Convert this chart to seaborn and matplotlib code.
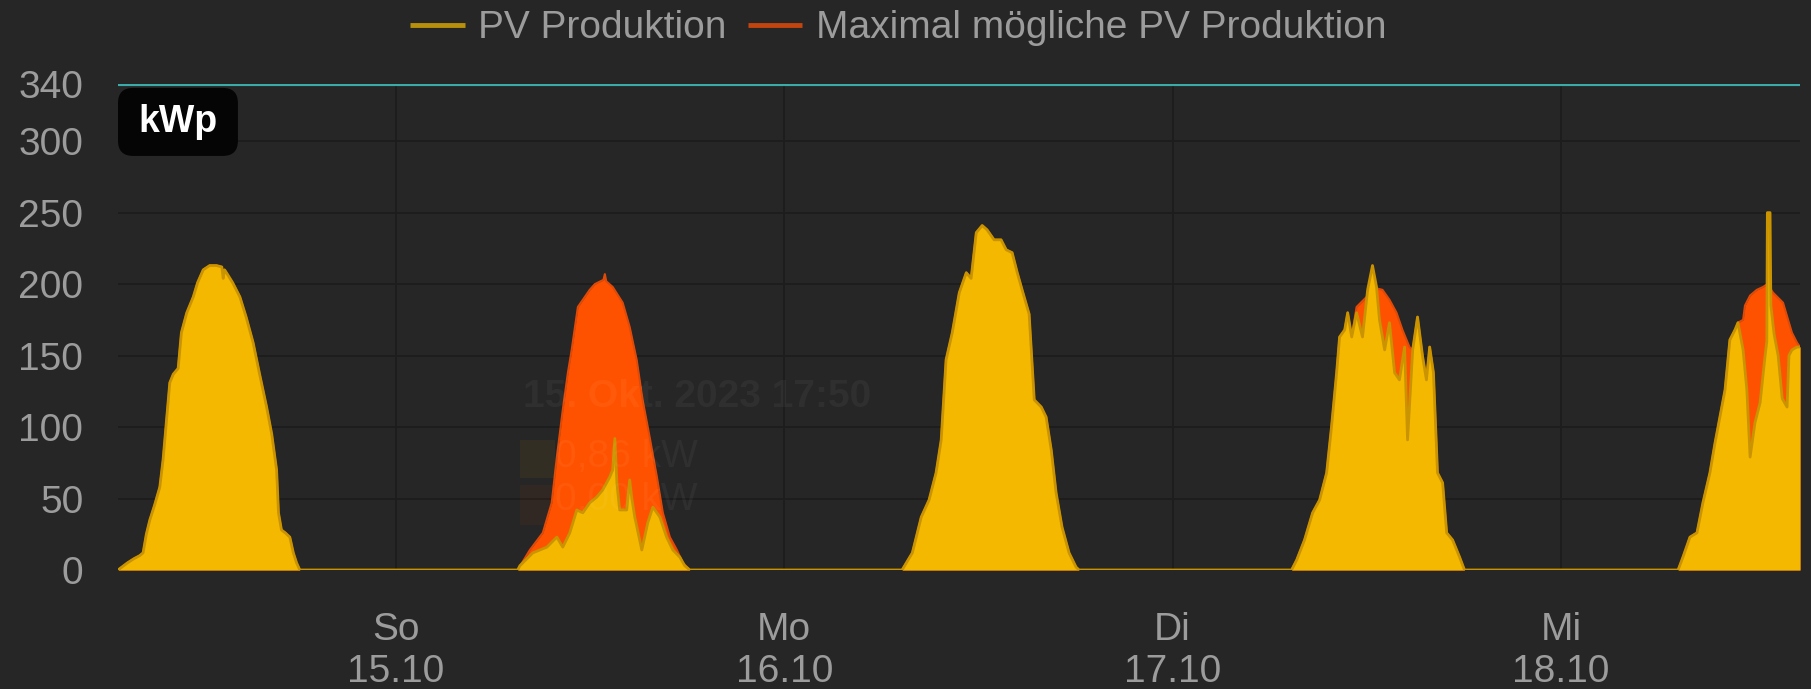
import pandas as pd
import numpy as np
import matplotlib.pyplot as plt
from matplotlib.lines import Line2D
from matplotlib.patches import Rectangle, FancyBboxPatch
import seaborn as sns

# PV production in kW, one list per day
d1_date = "2023-10-14"
d1_time = ["06:50", "06:57", "07:25", "07:50", "08:10", "08:23", "08:35", "08:48", "09:05",
           "09:25", "09:37", "09:50", "10:02", "10:15", "10:33", "10:45", "11:05", "11:29",
           "11:45", "12:06", "12:30", "12:55", "13:15", "13:20", "13:25", "13:32", "13:55",
           "14:22", "14:45", "15:11", "15:35", "16:01", "16:20", "16:38", "16:45", "16:56",
           "17:10", "17:27", "17:40", "17:52", "18:04"]
d1_pv = [0, 1, 5, 8, 10, 12, 25, 35, 45, 58, 77, 105, 131, 137, 141, 166, 180, 191, 201, 210,
         213, 213, 212, 204, 210, 208, 201, 191, 177, 159, 137, 114, 95, 70, 40, 28, 26, 23,
         12, 5, 0]

d2_date = "2023-10-15"
d2_time = ["07:32", "07:40", "08:28", "09:20", "09:57", "10:19", "10:45", "11:11", "11:33",
           "11:59", "12:25", "12:47", "13:13", "13:24", "13:32", "13:40", "13:50", "14:16",
           "14:27", "14:35", "14:46", "15:12", "15:34", "15:53", "16:19", "16:44", "17:07",
           "17:33", "17:51", "18:10"]
d2_pv = [0, 3, 12, 16, 23, 16, 26, 42, 40, 47, 51, 56, 65, 70, 92, 60, 42, 42, 63, 50, 37,
         14, 33, 44, 37, 23, 14, 9, 3, 0]
d2_max_time = ["07:32", "08:17", "09:05", "09:38", "09:57", "10:19", "10:38", "10:52", "11:15",
               "11:59", "12:18", "12:50", "12:55", "13:00", "13:24", "14:01", "14:27", "14:53",
               "15:15", "15:41", "16:08", "16:30", "16:56", "17:22", "17:44", "18:10"]
d2_max = [0, 14, 26, 47, 79, 112, 138, 154, 184, 196, 200, 203, 207, 202, 198, 187, 170, 147,
          119, 93, 65, 40, 23, 14, 5, 0]

d3_date = "2023-10-16"
d3_time = ["07:17", "07:55", "08:28", "08:57", "09:23", "09:42", "10:00", "10:23", "10:49",
           "11:15", "11:33", "11:52", "12:14", "12:32", "12:58", "13:24", "13:43", "14:05",
           "14:24", "14:42", "15:08", "15:27", "15:53", "16:11", "16:30", "16:48", "17:10",
           "17:36", "18:02", "18:13"]
d3_pv = [0, 12, 37, 49, 68, 91, 147, 166, 194, 208, 204, 236, 241, 238, 231, 231, 224, 222,
         208, 196, 179, 119, 114, 107, 84, 54, 30, 12, 2, 0]

d4_date = "2023-10-17"
d4_time = ["07:21", "07:40", "08:09", "08:39", "09:05", "09:31", "09:49", "10:08", "10:19",
           "10:38", "10:49", "11:04", "11:22", "11:44", "12:03", "12:21", "12:36", "12:47",
           "13:06", "13:24", "13:43", "14:01", "14:20", "14:31", "14:50", "15:08", "15:27",
           "15:41", "15:53", "16:07", "16:22", "16:41", "16:56", "17:18", "17:44", "18:02"]
d4_pv = [0, 7, 21, 40, 49, 68, 100, 138, 163, 168, 180, 163, 180, 163, 196, 213, 198, 175,
         154, 173, 138, 133, 156, 91, 154, 177, 149, 133, 156, 138, 68, 61, 26, 21, 9, 0]
d4_max_time = ["07:21", "07:40", "08:09", "08:39", "09:05", "09:31", "09:49", "10:08", "10:19",
               "10:38", "10:49", "11:04", "11:22", "11:59", "12:36", "12:58", "13:24", "13:50",
               "14:12", "14:38", "14:50", "15:08", "15:27", "15:41", "15:53", "16:07", "16:22",
               "16:41", "16:56", "17:18", "17:44", "18:02"]
d4_max = [0, 7, 21, 40, 49, 68, 100, 138, 163, 168, 180, 163, 184, 191, 197, 196, 189, 180,
          168, 156, 154, 177, 149, 133, 156, 138, 68, 61, 26, 21, 9, 0]

d5_date = "2023-10-18"
d5_time = ["07:14", "07:32", "07:58", "08:24", "08:46", "09:12", "09:31", "09:49", "10:08",
           "10:26", "10:45", "10:56", "11:15", "11:29", "11:41", "11:59", "12:18", "12:36",
           "12:43", "12:45", "12:55", "12:58", "13:10", "13:25", "13:40", "13:58", "14:05",
           "14:16", "14:35", "14:46"]
d5_pv = [0, 9, 23, 26, 47, 68, 89, 107, 126, 161, 168, 173, 154, 126, 79, 103, 117, 149,
         160, 250, 250, 185, 165, 150, 120, 114, 150, 154, 156, 156]
d5_max_time = ["07:14", "07:32", "07:58", "08:24", "08:46", "09:12", "09:31", "09:49", "10:08",
               "10:26", "10:45", "10:56", "11:15", "11:22", "11:41", "12:06", "12:29", "12:45",
               "13:06", "13:43", "14:16", "14:35", "14:46"]
d5_max = [0, 9, 23, 26, 47, 68, 89, 107, 126, 161, 168, 173, 175, 185, 192, 196, 198, 200,
          194, 187, 166, 159, 156]

kwp_limit = 340
y_ticks = [0, 50, 100, 150, 200, 250, 300, 340]
x_tick_dates = ["2023-10-15", "2023-10-16", "2023-10-17", "2023-10-18"]
x_tick_labels = ["So\n15.10", "Mo\n16.10", "Di\n17.10", "Mi\n18.10"]
series_names = ["PV Produktion", "Maximal mögliche PV Produktion"]


def build(parts, name):
    frames = []
    for date, times, vals in parts:
        frames.append(pd.DataFrame({
            "zeit": pd.to_datetime([date + " " + t for t in times]),
            "kw": vals,
        }))
    df = pd.concat(frames, ignore_index=True)
    df["serie"] = name
    return df


pv = build([(d1_date, d1_time, d1_pv), (d2_date, d2_time, d2_pv), (d3_date, d3_time, d3_pv),
            (d4_date, d4_time, d4_pv), (d5_date, d5_time, d5_pv)], series_names[0])
mx = build([(d1_date, d1_time, d1_pv), (d2_date, d2_max_time, d2_max), (d3_date, d3_time, d3_pv),
            (d4_date, d4_max_time, d4_max), (d5_date, d5_max_time, d5_max)], series_names[1])

bg = "#262626"
grid_col = "#1d1d1d"
text_col = "#9c9c9c"
yellow = "#f5b800"
yellow_edge = "#c99400"
orange = "#ff5200"
orange_edge = "#e04a08"
cyan = "#3aaba8"

sns.set_theme(style="dark", rc={"axes.facecolor": bg, "figure.facecolor": bg})
plt.rcParams["font.family"] = ["Liberation Sans", "DejaVu Sans"]

fig = plt.figure(figsize=(18.11, 6.89), dpi=100)
ax = fig.add_axes([118 / 1811, 119 / 689, 1682 / 1811, 486 / 689])

# filled areas: max possible behind, actual production in front
ax.fill_between(mx["zeit"], 0, mx["kw"], color=orange, lw=0, zorder=2)
sns.lineplot(data=mx, x="zeit", y="kw", color=orange_edge, lw=1.5, estimator=None,
             sort=False, ax=ax, zorder=2.5)
ax.fill_between(pv["zeit"], 0, pv["kw"], color=yellow, lw=0, zorder=3)
sns.lineplot(data=pv, x="zeit", y="kw", color=yellow_edge, lw=2.0, estimator=None,
             sort=False, ax=ax, zorder=3.5)

ax.axhline(kwp_limit, color=cyan, lw=3, zorder=4)

ax.set_xlim(pv["zeit"].iloc[0], pv["zeit"].iloc[-1])
ax.set_ylim(0, kwp_limit)
ax.set_yticks(y_ticks)
ax.set_xticks(pd.to_datetime(x_tick_dates))
ax.set_xticklabels(x_tick_labels, linespacing=1.2)
ax.set_xlabel("")
ax.set_ylabel("")
for s in ax.spines.values():
    s.set_visible(False)
ax.grid(True, color=grid_col, lw=1.3, zorder=0)
ax.tick_params(axis="x", length=23, width=1.3, color=grid_col, pad=7.5,
               labelsize=28, labelcolor=text_col)
ax.tick_params(axis="y", length=21.5, width=1.3, color=grid_col, pad=3.5,
               labelsize=28, labelcolor=text_col)

# kWp badge in the top-left corner of the plot
badge = FancyBboxPatch((0.0, 0.852), 0.0713, 0.14, transform=ax.transAxes,
                       boxstyle="round,pad=0,rounding_size=0.009",
                       mutation_aspect=1682 / 486, fc="#050505", ec="none", zorder=6)
ax.add_patch(badge)
ax.text(0.0357, 0.922, "kWp", transform=ax.transAxes, ha="center", va="center",
        fontsize=27, fontweight="bold", color="white", zorder=7)

# faded tooltip left over in the screenshot
ghost = (1, 1, 1, 0.045)
ax.text(0.2408, 0.356, "15. Okt. 2023 17:50", transform=ax.transAxes, ha="left",
        va="center", fontsize=28, fontweight="bold", color=ghost, zorder=6)
ax.add_patch(Rectangle((0.239, 0.189), 0.0208, 0.078, transform=ax.transAxes,
                       fc=(0.96, 0.72, 0.0, 0.06), ec="none", zorder=6))
ax.add_patch(Rectangle((0.239, 0.093), 0.0208, 0.082, transform=ax.transAxes,
                       fc=(1.0, 0.32, 0.0, 0.05), ec="none", zorder=6))
ax.text(0.2598, 0.2325, "0,86 kW", transform=ax.transAxes, ha="left", va="center",
        fontsize=28, color=ghost, zorder=6)
ax.text(0.2598, 0.144, "0,00 kW", transform=ax.transAxes, ha="left", va="center",
        fontsize=28, color=ghost, zorder=6)

handles = [Line2D([], [], color="#b8900c", lw=3.5, solid_capstyle="butt"),
           Line2D([], [], color="#c2440e", lw=3.5, solid_capstyle="butt")]
fig.legend(handles, series_names, loc="center", bbox_to_anchor=(0.496, 0.959), ncol=2,
           frameon=False, fontsize=28, handlelength=1.4, handletextpad=0.35,
           columnspacing=0.55, labelcolor=text_col)

fig.savefig("out.png", dpi=100, facecolor=bg)
